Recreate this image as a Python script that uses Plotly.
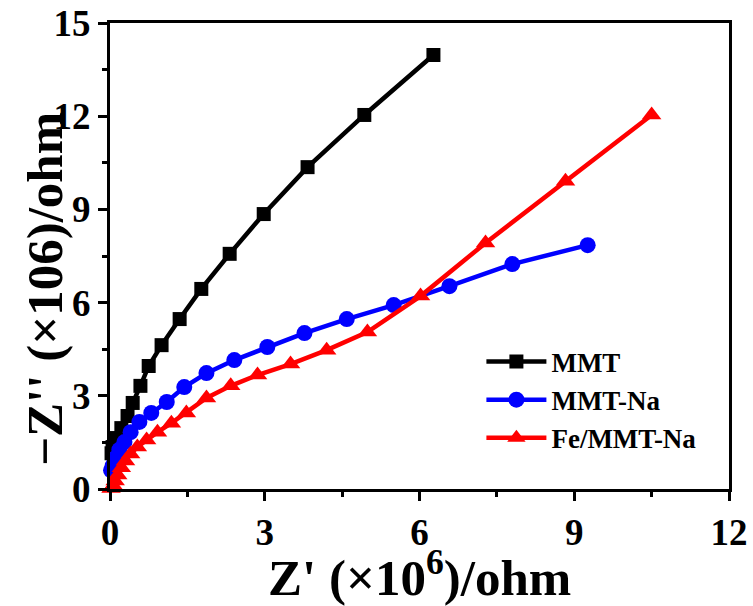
import plotly.graph_objects as go

# Nyquist data (Z' and -Z'' in units of 1e6 ohm)
mmt_x = [0.03, 0.05, 0.13, 0.22, 0.34, 0.44, 0.59, 0.75, 1.00, 1.35, 1.77, 2.32, 2.98, 3.83, 4.93, 6.27]
mmt_y = [1.15, 1.35, 1.64, 1.96, 2.35, 2.77, 3.32, 3.96, 4.63, 5.47, 6.44, 7.57, 8.85, 10.36, 12.04, 13.97]

mmtna_x = [0.02, 0.05, 0.11, 0.18, 0.28, 0.40, 0.57, 0.80, 1.10, 1.44, 1.87, 2.41, 3.05, 3.77, 4.59, 5.50, 6.58, 7.80, 9.26]
mmtna_y = [0.60, 0.74, 1.00, 1.26, 1.51, 1.83, 2.16, 2.45, 2.80, 3.28, 3.73, 4.15, 4.57, 5.02, 5.47, 5.92, 6.53, 7.24, 7.85]

fe_x = [0.02, 0.04, 0.07, 0.10, 0.15, 0.22, 0.30, 0.40, 0.53, 0.71, 0.92, 1.19, 1.48, 1.87, 2.34, 2.86, 3.50, 4.20, 4.99, 6.02, 7.28, 8.83, 10.50]
fe_y = [0.02, 0.05, 0.10, 0.26, 0.45, 0.68, 0.90, 1.13, 1.35, 1.58, 1.83, 2.12, 2.45, 2.93, 3.32, 3.67, 4.02, 4.47, 5.05, 6.21, 7.92, 9.91, 12.04]

x_ticks = [0, 3, 6, 9, 12]
y_ticks = [0, 3, 6, 9, 12, 15]

FONT = "Liberation Serif"

fig = go.Figure()
fig.add_trace(go.Scatter(x=mmt_x, y=mmt_y, name="MMT", mode="lines+markers",
                         line=dict(color="#000000", width=4.5),
                         marker=dict(symbol="square", size=14, color="#000000"),
                         cliponaxis=False))
fig.add_trace(go.Scatter(x=mmtna_x, y=mmtna_y, name="MMT-Na", mode="lines+markers",
                         line=dict(color="#0000FF", width=4.5),
                         marker=dict(symbol="circle", size=16, color="#0000FF"),
                         cliponaxis=False))
fig.add_trace(go.Scatter(x=fe_x, y=fe_y, name="Fe/MMT-Na", mode="lines+markers",
                         line=dict(color="#FF0000", width=4.5),
                         marker=dict(symbol="triangle-up", size=17, color="#FF0000"),
                         cliponaxis=False))

axis_common = dict(
    showline=True, linecolor="black", linewidth=3, mirror=True,
    ticks="outside", ticklen=9, tickwidth=3, tickcolor="black",
    showgrid=False, zeroline=False, automargin=False,
    tickfont=dict(family=FONT, size=37, color="black", weight="bold"),
    minor=dict(ticks="outside", ticklen=5, tickwidth=3, tickcolor="black", dtick=1.5),
)

fig.update_xaxes(range=[0, 12], tickvals=x_ticks, **axis_common)
fig.update_yaxes(range=[0, 15], tickvals=y_ticks, **axis_common)

title_font = dict(family=FONT, size=51, color="black", weight="bold")
fig.add_annotation(text="Z' (×10<sup>6</sup>)/ohm", xref="paper", yref="paper",
                   x=0.5, y=-0.183, xanchor="center", yanchor="middle",
                   showarrow=False, font=title_font)
fig.add_annotation(text="−Z'' (×106)/ohm", xref="paper", yref="paper",
                   x=-0.106, y=0.43, xanchor="center", yanchor="middle",
                   textangle=-90, showarrow=False, font=title_font)

fig.update_layout(
    width=753, height=606,
    margin=dict(l=110, r=24, t=23, b=117),
    plot_bgcolor="white", paper_bgcolor="white",
    legend=dict(x=0.6, y=0.325, xanchor="left", yanchor="top",
                bgcolor="rgba(0,0,0,0)", borderwidth=0, itemwidth=60,
                font=dict(family=FONT, size=27, color="black", weight="bold"),
                tracegroupgap=0),
)

fig.write_html("out.html")
